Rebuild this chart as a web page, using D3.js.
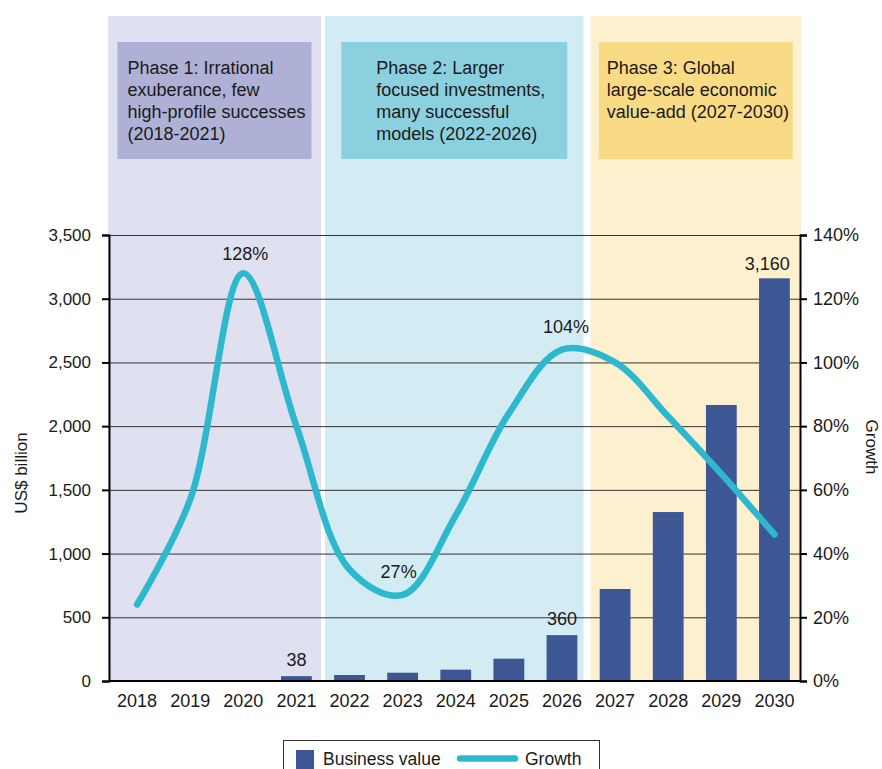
<!DOCTYPE html>
<html>
<head>
<meta charset="utf-8">
<script src="https://cdn.jsdelivr.net/npm/d3@7"></script>
<style>
  body { margin: 0; background: #fff; }
  text { font-family: "Liberation Sans", Arial, sans-serif; fill: #1a1a1a; }
</style>
</head>
<body>
<div id="chart"></div>
<script>
// Data
const years = ["2018", "2019", "2020", "2021", "2022", "2023", "2024", "2025", "2026", "2027", "2028", "2029", "2030"];
const businessValue = [0, 0, 0, 38, 47, 65, 89, 175, 360, 722, 1326, 2166, 3160];
const growth = [24, 57, 128, 80, 35, 27, 52, 84, 104, 100, 83, 65, 46];

const valueTicks = [0, 500, 1000, 1500, 2000, 2500, 3000, 3500];
const growthTicks = [0, 20, 40, 60, 80, 100, 120, 140];

// years that get a number printed on them
const valueLabelYears = ["2021", "2026", "2030"];
const growthLabelYears = ["2020", "2023", "2026"];

const phaseNames = ["Phase 1", "Phase 2", "Phase 3"];
const phaseStart = ["2018", "2022", "2027"];
const phaseEnd = ["2021", "2026", "2030"];
const phaseText = [
    ["Phase 1: Irrational", "exuberance, few", "high-profile successes", "(2018-2021)"],
    ["Phase 2: Larger", "focused investments,", "many successful", "models (2022-2026)"],
    ["Phase 3: Global", "large-scale economic", "value-add (2027-2030)"]
];

// Styles for each phase (background, box, box width, text inset)
const phaseStyle = [
    { bg: "#dfe0f0", box: "#aeb1d5", boxWidth: 194, textPad: 10 },
    { bg: "#d3ebf3", box: "#8bd0df", boxWidth: 226, textPad: 35 },
    { bg: "#fdf0cf", box: "#f9db86", boxWidth: 194, textPad: 8 }
];

const barColor = "#3d5794";
const lineColor = "#2db8ce";

// Layout
const W = 882, H = 769;
const plotLeft = 109, plotRight = 800, plotTop = 235, plotBottom = 681;

const svg = d3.select("#chart")
    .append("svg")
    .attr("width", W)
    .attr("height", H);

svg.append("rect").attr("width", W).attr("height", H).attr("fill", "#fff");

// Scales
const x = d3.scaleBand()
    .domain(years)
    .range([110.5, 801])
    .paddingInner(0.42)
    .paddingOuter(0.21);

const y = d3.scaleLinear().domain([0, 3500]).range([plotBottom, plotTop]);
const y2 = d3.scaleLinear().domain([0, 140]).range([plotBottom, plotTop]);

const step = x.step();
const cellStart = yr => x(yr) - step * x.paddingInner() / 2;
const cellEnd = yr => x(yr) + x.bandwidth() + step * x.paddingInner() / 2;

// Phase backgrounds and boxes
phaseNames.forEach((name, i) => {
    const st = phaseStyle[i];
    const x0 = i === 0 ? plotLeft - 1 : cellStart(phaseStart[i]) + 2;
    const x1 = i === phaseNames.length - 1 ? plotRight + 1 : cellEnd(phaseEnd[i]) - (i === 1 ? 5 : 2);

    svg.append("rect")
        .attr("x", x0)
        .attr("y", 16)
        .attr("width", x1 - x0)
        .attr("height", plotBottom - 16)
        .attr("fill", st.bg);

    const bx = (x0 + x1) / 2 - st.boxWidth / 2;
    svg.append("rect")
        .attr("x", bx)
        .attr("y", 42)
        .attr("width", st.boxWidth)
        .attr("height", 117)
        .attr("fill", st.box);

    const t = svg.append("text")
        .attr("x", bx + st.textPad)
        .attr("y", 73.5)
        .style("font-size", "18px");
    phaseText[i].forEach((line, j) => {
        t.append("tspan")
            .attr("x", bx + st.textPad)
            .attr("dy", j === 0 ? 0 : 22.3)
            .text(line);
    });
});

// Gridlines
svg.append("g")
    .selectAll("line")
    .data(valueTicks.filter(d => d > 0))
    .enter()
    .append("line")
    .attr("x1", plotLeft)
    .attr("x2", plotRight)
    .attr("y1", d => y(d) + 0.5)
    .attr("y2", d => y(d) + 0.5)
    .attr("stroke", "#333")
    .attr("stroke-width", 1);

// Bars
svg.append("g")
    .selectAll("rect")
    .data(years.map((yr, i) => ({ year: yr, value: businessValue[i] })).filter(d => d.value > 0))
    .enter()
    .append("rect")
    .attr("x", d => x(d.year))
    .attr("y", d => y(d.value))
    .attr("width", x.bandwidth())
    .attr("height", d => plotBottom - y(d.value))
    .attr("fill", barColor);

// Growth line
const line = d3.line()
    .x((d, i) => x(years[i]) + x.bandwidth() / 2)
    .y(d => y2(d))
    .curve(d3.curveCatmullRom.alpha(0.5));

svg.append("path")
    .datum(growth)
    .attr("fill", "none")
    .attr("stroke", lineColor)
    .attr("stroke-width", 6.5)
    .attr("stroke-linecap", "round")
    .attr("d", line);

// Axes
const leftAxis = svg.append("g")
    .attr("transform", `translate(${plotLeft},0)`)
    .call(d3.axisLeft(y).tickValues(valueTicks).tickSize(7).tickPadding(11).tickFormat(d3.format(",")));
leftAxis.selectAll("text").style("font-size", "17px");

const rightAxis = svg.append("g")
    .attr("transform", `translate(${plotRight},0)`)
    .call(d3.axisRight(y2).tickValues(growthTicks).tickSize(7).tickPadding(6).tickFormat(d => d + "%"));
rightAxis.selectAll("text").style("font-size", "18px");

[leftAxis, rightAxis].forEach(g => {
    g.select(".domain").attr("stroke", "#000").attr("stroke-width", 2);
    g.selectAll(".tick line").attr("stroke", "#000").attr("stroke-width", 2);
    g.selectAll("text").attr("fill", "#1a1a1a");
});

const bottomAxis = svg.append("g")
    .attr("transform", `translate(0,${plotBottom})`)
    .call(d3.axisBottom(x).tickSize(0).tickPadding(13));
bottomAxis.select(".domain").remove();
bottomAxis.selectAll("text").style("font-size", "18px").attr("fill", "#1a1a1a");

svg.append("line")
    .attr("x1", plotLeft)
    .attr("x2", plotRight)
    .attr("y1", plotBottom)
    .attr("y2", plotBottom)
    .attr("stroke", "#000")
    .attr("stroke-width", 2);

// Axis titles
svg.append("text")
    .attr("transform", "translate(27,473) rotate(-90)")
    .attr("text-anchor", "middle")
    .style("font-size", "17px")
    .text("US$ billion");

svg.append("text")
    .attr("transform", "translate(866,447) rotate(90)")
    .attr("text-anchor", "middle")
    .style("font-size", "17px")
    .text("Growth");

// Value labels
valueLabelYears.forEach(yr => {
    const i = years.indexOf(yr);
    const last = i === years.length - 1;
    svg.append("text")
        .attr("x", last ? x(yr) + x.bandwidth() : x(yr) + x.bandwidth() / 2)
        .attr("y", y(businessValue[i]) - (last ? 8 : 10.5))
        .attr("text-anchor", last ? "end" : "middle")
        .style("font-size", "18px")
        .text(d3.format(",")(businessValue[i]));
});

// Growth labels
growthLabelYears.forEach((yr, k) => {
    const i = years.indexOf(yr);
    svg.append("text")
        .attr("x", x(yr) + x.bandwidth() / 2 + (k === 0 ? 2 : k === 1 ? -4 : 4))
        .attr("y", y2(growth[i]) - (k === 0 ? 13 : 16.5))
        .attr("text-anchor", "middle")
        .style("font-size", "18px")
        .text(growth[i] + "%");
});

// Legend
const legend = svg.append("g");
legend.append("rect")
    .attr("x", 283.5)
    .attr("y", 740.5)
    .attr("width", 316)
    .attr("height", 40)
    .attr("fill", "#fff")
    .attr("stroke", "#333")
    .attr("stroke-width", 1);

legend.append("rect")
    .attr("x", 296)
    .attr("y", 750)
    .attr("width", 18)
    .attr("height", 20)
    .attr("fill", barColor);

legend.append("text")
    .attr("x", 323)
    .attr("y", 765)
    .style("font-size", "17.5px")
    .text("Business value");

legend.append("line")
    .attr("x1", 460)
    .attr("x2", 515)
    .attr("y1", 758.5)
    .attr("y2", 758.5)
    .attr("stroke", lineColor)
    .attr("stroke-width", 6.5)
    .attr("stroke-linecap", "round");

legend.append("text")
    .attr("x", 525)
    .attr("y", 765)
    .style("font-size", "17.5px")
    .text("Growth");
</script>
</body>
</html>
